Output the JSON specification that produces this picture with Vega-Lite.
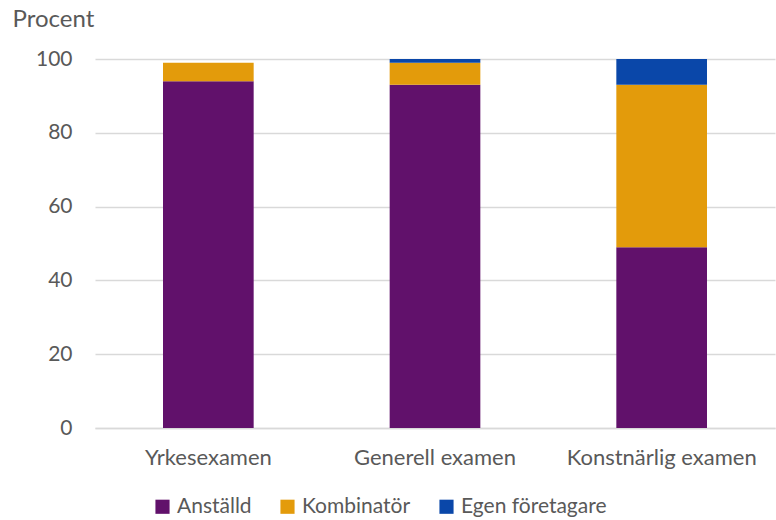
{
  "$schema": "https://vega.github.io/schema/vega-lite/v6.json",
  "autosize": "none",
  "width": 680,
  "height": 369,
  "padding": {"left": 95, "top": 59, "right": 1, "bottom": 92},
  "background": "white",
  "config": {
    "font": "Lato",
    "view": {"stroke": null},
    "axis": {"labelFont": "Lato", "labelFontSize": 21, "labelColor": "#595959", "titleFont": "Lato", "titleColor": "#595959"},
    "legend": {"labelFont": "Lato", "labelFontSize": 21, "labelColor": "#595959"}
  },
  "data": {
    "values": [
      {"examen": "Yrkesexamen", "status": "Anställd", "ord": 1, "procent": 94},
      {"examen": "Yrkesexamen", "status": "Kombinatör", "ord": 2, "procent": 5},
      {"examen": "Yrkesexamen", "status": "Egen företagare", "ord": 3, "procent": 0},
      {"examen": "Generell examen", "status": "Anställd", "ord": 1, "procent": 93},
      {"examen": "Generell examen", "status": "Kombinatör", "ord": 2, "procent": 6},
      {"examen": "Generell examen", "status": "Egen företagare", "ord": 3, "procent": 1},
      {"examen": "Konstnärlig examen", "status": "Anställd", "ord": 1, "procent": 49},
      {"examen": "Konstnärlig examen", "status": "Kombinatör", "ord": 2, "procent": 44},
      {"examen": "Konstnärlig examen", "status": "Egen företagare", "ord": 3, "procent": 7}
    ]
  },
  "mark": {"type": "bar"},
  "encoding": {
    "x": {
      "field": "examen",
      "type": "nominal",
      "sort": ["Yrkesexamen", "Generell examen", "Konstnärlig examen"],
      "scale": {"paddingInner": 0.6, "paddingOuter": 0.3},
      "axis": {"title": null, "labelAngle": 0, "labelPadding": 19, "labelFontSize": 22, "labelLimit": 0, "labelOverlap": false, "ticks": false, "domainColor": "#d9d9d9", "domainWidth": 1.5}
    },
    "y": {
      "field": "procent",
      "type": "quantitative",
      "stack": "zero",
      "scale": {"domain": [0, 100]},
      "axis": {
        "title": "Procent",
        "titleAngle": 0,
        "titleAlign": "left",
        "titleBaseline": "middle",
        "titleX": -83,
        "titleY": -40,
        "titleFontSize": 24,
        "titleFontWeight": "normal",
        "values": [0, 20, 40, 60, 80, 100],
        "domain": false,
        "ticks": false,
        "labelPadding": 23,
        "gridColor": "#d9d9d9",
        "gridWidth": 1.5
      }
    },
    "color": {
      "field": "status",
      "type": "nominal",
      "sort": ["Anställd", "Kombinatör", "Egen företagare"],
      "scale": {"domain": ["Anställd", "Kombinatör", "Egen företagare"], "range": ["#61116B", "#E39B0B", "#0A47A9"]},
      "legend": {
        "title": null,
        "orient": "none",
        "direction": "horizontal",
        "legendX": 57,
        "legendY": 437,
        "symbolType": "square",
        "symbolSize": 200,
        "symbolStrokeWidth": 0,
        "labelOffset": 4,
        "columnPadding": 25
      }
    },
    "order": {"field": "ord", "type": "quantitative"}
  }
}
